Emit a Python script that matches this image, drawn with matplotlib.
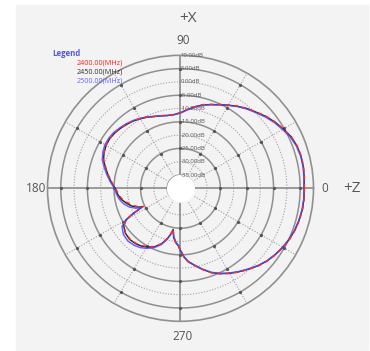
import numpy as np
import matplotlib
matplotlib.use("Agg")
import matplotlib.pyplot as plt
import matplotlib.patches as mpatches

plt.rcParams['font.family'] = ['Open Sans', 'DejaVu Sans']

# angles in degrees, gain in dB
angles = [0, 5, 10, 15, 20, 25, 30, 35, 40, 45, 50, 55, 60, 65, 70, 75, 80, 85, 90,
          95, 100, 105, 110, 115, 120, 125, 130, 135, 140, 145, 150, 155, 160, 165,
          170, 175, 180, 185, 190, 195, 200, 204, 206, 208, 210, 213, 219, 225, 231,
          236, 241, 246, 251, 255, 258, 260, 262, 265, 268, 270, 273, 276, 280, 285,
          290, 295, 300, 305, 310, 315, 320, 325, 330, 335, 340, 345, 350, 355, 360]

gain_2400 = [6.6, 6.8, 7.0, 7.0, 6.7, 6.0, 4.7, 3.5, 2.1, 0.5, -0.8, -2.3, -3.8, -5.2,
             -6.4, -7.4, -8.8, -10.2, -11.5, -12.1, -12.1, -11.7, -11.2, -10.4, -9.7,
             -9.0, -8.5, -8.0, -7.6, -7.5, -7.7, -8.3, -9.3, -11.0, -12.6, -14.1,
             -15.6, -16.5, -17.6, -19.3, -21.0, -23.0, -24.5, -19.5, -16.6, -14.6,
             -13.4, -13.1, -13.4, -14.0, -14.9, -16.1, -18.0, -20.3, -22.5, -24.5,
             -21.5, -19.4, -18.2, -16.5, -14.0, -12.2, -10.6, -8.4, -6.2, -4.5,
             -3.0, -1.6, -0.2, 1.3, 2.6, 3.6, 4.5, 5.3, 5.9, 6.3, 6.6, 6.7, 6.6]

gain_2450 = [6.5, 6.7, 6.9, 6.9, 6.6, 5.9, 4.6, 3.4, 2.0, 0.4, -0.9, -2.4, -3.9, -5.3,
             -6.5, -7.5, -8.9, -10.3, -11.6, -12.2, -12.2, -11.8, -11.3, -10.5, -9.8,
             -9.1, -8.6, -8.1, -7.7, -7.5, -7.7, -8.3, -9.2, -10.9, -12.4, -13.9,
             -15.4, -16.2, -17.2, -18.8, -20.5, -22.6, -24.2, -19.8, -16.6, -14.5,
             -13.3, -12.9, -13.2, -13.8, -14.7, -15.9, -17.9, -20.2, -22.4, -24.3,
             -21.4, -19.5, -18.3, -16.6, -14.1, -12.3, -10.7, -8.5, -6.3, -4.6,
             -3.1, -1.7, -0.3, 1.2, 2.5, 3.5, 4.4, 5.2, 5.8, 6.2, 6.5, 6.6, 6.5]

gain_2500 = [6.4, 6.6, 6.8, 6.8, 6.4, 5.6, 4.3, 3.1, 1.7, 0.2, -1.1, -2.5, -4.0, -5.4,
             -6.6, -7.6, -9.0, -10.4, -11.7, -12.2, -12.2, -11.8, -11.2, -10.4, -9.6,
             -8.9, -8.3, -7.8, -7.3, -7.1, -7.2, -7.8, -8.7, -10.4, -12.0, -13.6,
             -15.2, -15.8, -16.6, -17.8, -19.5, -21.6, -23.5, -20.5, -16.3, -13.8,
             -12.4, -12.0, -12.4, -13.1, -14.2, -15.6, -17.6, -20.0, -22.2, -24.0,
             -21.8, -19.8, -18.4, -16.7, -14.2, -12.4, -10.8, -8.6, -6.4, -4.7,
             -3.2, -1.8, -0.4, 1.1, 2.4, 3.4, 4.3, 5.1, 5.7, 6.1, 6.4, 6.5, 6.4]

ring_labels = ["10.00dB", "5.00dB", "0.00dB", "-5.00dB", "-10.00dB", "-15.00dB",
               "-20.00dB", "-25.00dB", "-30.00dB", "-35.00dB"]
ring_values = [10, 5, 0, -5, -10, -15, -20, -25, -30, -35]

fig = plt.figure(figsize=(3.7, 3.51), dpi=100, facecolor="white")
fig.patches.append(mpatches.Rectangle((16 / 370, 1 - 350 / 351), 352 / 370, 345 / 351,
                                      transform=fig.transFigure, color="#f3f3f3",
                                      zorder=-5))

ax = fig.add_axes([0.1283, 0.0846, 0.719, 0.7578], projection="polar")
ax.set_zorder(2)
ax.set_facecolor("none")
ax.set_ylim(-40, 10)
ax.set_xticks([])
ax.set_yticks([])
ax.grid(False)
ax.spines["polar"].set_color("#909090")
ax.spines["polar"].set_linewidth(1.2)

full = np.linspace(0, 2 * np.pi, 361)
for r in [-35, -25, -15, -5, 5]:
    ax.plot(full, [r] * len(full), color="#909090", lw=1.1, zorder=1)
for r in [-30, -20, -10, 0]:
    ax.plot(full, [r] * len(full), color="#a0a0a0", lw=0.8, ls=(0, (1, 1.5)), zorder=1)

for a in range(0, 360, 30):
    t = np.deg2rad(a)
    if a % 90 == 0:
        ax.plot([t, t], [-35, 10], color="#8a8a8a", lw=1.2, zorder=1)
    else:
        ax.plot([t, t], [-35, 10], color="#a0a0a0", lw=0.8, ls=(0, (1, 1.5)), zorder=1)
    ax.plot([t] * 4, [-25, -15, -5, 5], ls="none", marker="o", ms=1.3,
            color="#555555", zorder=1)

# white hole in the middle
ax.fill_between(full, -40, -35, color="white", zorder=2)

for lab, r in zip(ring_labels, ring_values):
    ax.text(np.pi / 2, r, lab, fontsize=4.3, color="#555555", ha="left",
            va="center", zorder=3)

th = np.deg2rad(angles)
ax.plot(th, gain_2450, color="#222222", lw=1.0, zorder=4)
ax.plot(th, gain_2500, color="#4a4aff", lw=1.1, alpha=0.85, zorder=5)
ax.plot(th, gain_2400, color="#ff2a2a", lw=1.0, ls=(0, (3, 3)), zorder=6)

txt = dict(color="#555555", ha="center", va="center")
fig.text(188 / 370, 1 - 19 / 351, "+X", fontsize=11, **txt)
fig.text(183 / 370, 1 - 40 / 351, "90", fontsize=8.5, **txt)
fig.text(36 / 370, 1 - 188 / 351, "180", fontsize=8.5, **txt)
fig.text(325 / 370, 1 - 188 / 351, "0", fontsize=8.5, **txt)
fig.text(352 / 370, 1 - 188 / 351, "+Z", fontsize=11, **txt)
fig.text(183 / 370, 1 - 336 / 351, "270", fontsize=8.5, **txt)

fig.text(52 / 370, 1 - 53 / 351, "Legend", fontsize=5.6, fontweight="bold",
         color="#5555dd", ha="left", va="center")
fig.text(77 / 370, 1 - 63 / 351, "2400.00(MHz)", fontsize=5.2, color="#ff2020",
         ha="left", va="center")
fig.text(77 / 370, 1 - 72 / 351, "2450.00(MHz)", fontsize=5.2, color="#333333",
         ha="left", va="center")
fig.text(77 / 370, 1 - 81 / 351, "2500.00(MHz)", fontsize=5.2, color="#6666ff",
         ha="left", va="center")

fig.savefig("out.png", dpi=100)
